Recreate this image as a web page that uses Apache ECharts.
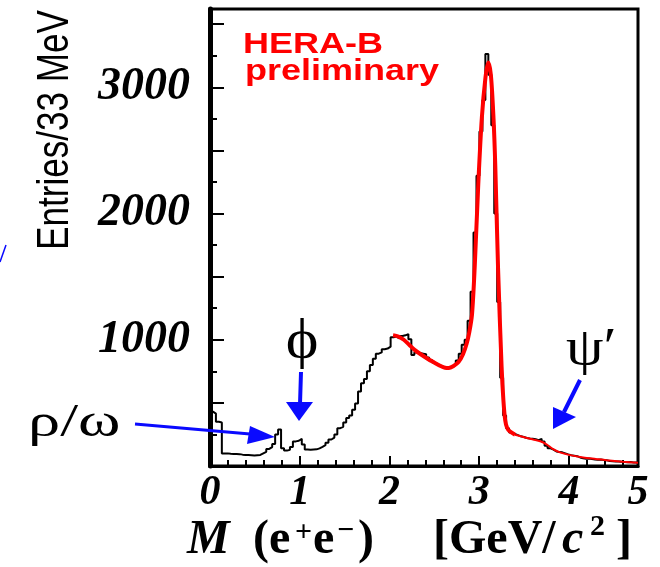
<!DOCTYPE html>
<html>
<head>
<meta charset="utf-8">
<script src="https://cdn.jsdelivr.net/npm/echarts@6/dist/echarts.min.js"></script>
<style>
  html, body { margin: 0; padding: 0; background: #fff; }
  #chart { width: 660px; height: 567px; }
</style>
</head>
<body>
<div id="chart"></div>
<script>
// e+e- invariant mass, 33 MeV bins starting at 0
const binWidth = 0.033
const counts = [
  430, 415, 350, 345, 100, 100, 97, 95, 96, 94,
  90, 88, 87, 86, 84, 86, 88, 100, 112, 135,
  150, 175, 250, 290, 140, 122, 128, 150, 195, 200,
  215, 170, 130, 128, 130, 132, 140, 152, 165, 185,
  210, 225, 250, 300, 310, 345, 380, 400, 445, 495,
  590, 655, 690, 750, 800, 850, 890, 900, 925, 930,
  945, 1020, 1025, 1010, 1030, 1035, 1045, 1005, 880, 900,
  895, 890, 885, 860, 840, 820, 805, 795, 785, 778,
  775, 785, 800, 835, 890, 960, 1000, 1150, 1380, 1850,
  2300, 2650, 2900, 3263, 3100, 2700, 2000, 1300, 700, 400,
  300, 265, 255, 245, 235, 230, 222, 218, 215, 212,
  205, 215, 195, 160, 140, 130, 115, 110, 108, 100,
  92, 85, 82, 78, 68, 62, 58, 60, 55, 52,
  50, 52, 48, 45, 40, 38, 35, 36, 33, 32,
  30, 31, 28, 27, 26
]

// fit curve (thick part and thin tail)
const fitMass = [2.04, 2.10, 2.16, 2.22, 2.28, 2.34, 2.42, 2.49, 2.57, 2.62, 2.66, 2.71, 2.77, 2.82, 2.86, 2.89, 2.92, 2.95, 2.99, 3.03, 3.07, 3.10, 3.13, 3.16, 3.18, 3.21, 3.25, 3.27, 3.29, 3.31, 3.34, 3.40]
const fitCounts = [1035, 1025, 1000, 960, 920, 889, 852, 823, 792, 778, 776, 790, 823, 885, 968, 1060, 1200, 1574, 2234, 2761, 3077, 3196, 3100, 2750, 2365, 1574, 783, 520, 362, 305, 275, 248]
const tailMass = [3.40, 3.50, 3.60, 3.68, 3.75, 3.82, 3.90, 4.00, 4.16, 4.30, 4.42, 4.60, 4.77]
const tailCounts = [248, 228, 210, 196, 172, 135, 108, 88, 68, 56, 46, 34, 25]

const xTickLabels = ['0', '1', '2', '3', '4', '5']
const yTickLabels = [1000, 2000, 3000]

const xMax = 4.77
const yMax = 3620

const histData = counts.map((c, i) => [i * binWidth, c])
histData.push([counts.length * binWidth, counts[counts.length - 1]])

const blue = '#0a0aff'
const serif = '"Liberation Serif", "DejaVu Serif", serif'
const sans = '"Liberation Sans", Arial, sans-serif'

const chart = echarts.init(document.getElementById('chart'), null, { renderer: 'canvas' })

function txt(x, y, text, font, opts) {
  opts = opts || {}
  return {
    type: 'text',
    x: x,
    y: y,
    rotation: opts.rotation || 0,
    scaleX: opts.scaleX || 1,
    scaleY: 1,
    z: 100,
    style: {
      text: text,
      font: font,
      fill: opts.color || '#000',
      align: opts.align || 'left',
      textAlign: opts.align || 'left',
      verticalAlign: 'middle',
      textVerticalAlign: 'middle'
    }
  }
}

function arrow(shaft, head, width) {
  return [
    { type: 'polyline', z: 100, shape: { points: shaft }, style: { stroke: blue, lineWidth: width, fill: null } },
    { type: 'polygon', z: 100, shape: { points: head }, style: { fill: blue } }
  ]
}

chart.setOption({
  animation: false,
  backgroundColor: '#fff',
  grid: {
    left: 210,
    right: 22,
    top: 9,
    bottom: 101,
    show: true,
    borderColor: '#000',
    borderWidth: 3
  },
  xAxis: [
    {
      type: 'value',
      min: 0,
      max: xMax,
      interval: 0.2,
      position: 'bottom',
      axisLine: { show: true, lineStyle: { color: '#000', width: 3 } },
      axisTick: { show: true, inside: true, length: 6, lineStyle: { color: '#000', width: 2 } },
      axisLabel: { show: false },
      splitLine: { show: false }
    },
    {
      type: 'value',
      min: 0,
      max: xMax,
      interval: 1,
      position: 'bottom',
      offset: 0,
      axisLine: { show: false },
      axisTick: { show: true, inside: true, length: 10, lineStyle: { color: '#000', width: 2 } },
      axisLabel: {
        show: true,
        margin: 6,
        showMinLabel: true,
        showMaxLabel: true,
        color: '#000',
        fontFamily: serif,
        fontStyle: 'italic',
        fontWeight: 'bold',
        fontSize: 42,
        formatter: function (v) {
          if (v > 4.5) return xTickLabels[5]
          return xTickLabels[Math.round(v)]
        }
      },
      splitLine: { show: false }
    }
  ],
  yAxis: [
    {
      type: 'value',
      min: 0,
      max: yMax,
      interval: 250,
      position: 'left',
      axisLine: { show: true, lineStyle: { color: '#000', width: 5 } },
      axisTick: { show: true, inside: true, length: 7, lineStyle: { color: '#000', width: 2 } },
      axisLabel: { show: false },
      splitLine: { show: false }
    },
    {
      type: 'value',
      min: 0,
      max: yMax,
      interval: 500,
      position: 'left',
      offset: 0,
      axisLine: { show: false },
      axisTick: { show: true, inside: true, length: 14, lineStyle: { color: '#000', width: 2 } },
      axisLabel: {
        show: true,
        margin: 20,
        color: '#000',
        fontFamily: serif,
        fontStyle: 'italic',
        fontWeight: 'bold',
        fontSize: 46,
        formatter: function (v) {
          return yTickLabels.indexOf(v) >= 0 ? String(v) : ''
        }
      },
      splitLine: { show: false }
    }
  ],
  series: [
    {
      name: 'data',
      type: 'line',
      step: 'end',
      symbol: 'none',
      xAxisIndex: 0,
      yAxisIndex: 0,
      data: histData,
      lineStyle: { color: '#000', width: 2 },
      z: 2
    },
    {
      name: 'fit',
      type: 'line',
      smooth: 0.3,
      symbol: 'none',
      xAxisIndex: 0,
      yAxisIndex: 0,
      data: fitMass.map((m, i) => [m, fitCounts[i]]),
      lineStyle: { color: '#ff0000', width: 4 },
      z: 3
    },
    {
      name: 'fit tail',
      type: 'line',
      smooth: 0.3,
      symbol: 'none',
      xAxisIndex: 0,
      yAxisIndex: 0,
      data: tailMass.map((m, i) => [m, tailCounts[i]]),
      lineStyle: { color: '#ff0000', width: 2 },
      z: 3
    }
  ],
  graphic: [
    txt(243, 45, 'HERA-B', 'bold 30px ' + sans, { color: '#ff0000', scaleX: 1.2 }),
    txt(245, 72, 'preliminary', 'bold 30px ' + sans, { color: '#ff0000', scaleX: 1.2 }),
    txt(56, 130, 'Entries/33 MeV', '45px ' + sans, { rotation: Math.PI / 2, scaleX: 0.78, align: 'center' }),
    // x axis title
    txt(187, 541, 'M', 'italic bold 48px ' + serif),
    txt(253, 541, '(e', 'bold 48px ' + serif),
    txt(295, 533, '+', 'bold 30px ' + serif),
    txt(313, 541, 'e', 'bold 48px ' + serif),
    txt(337, 531, '\u2212', 'bold 30px ' + serif),
    txt(358, 541, ')', 'bold 48px ' + serif),
    txt(433, 541, '[GeV/', 'bold 48px ' + serif),
    txt(562, 541, 'c', 'italic bold 48px ' + serif),
    txt(590, 527, '2', 'bold 30px ' + serif),
    txt(616, 541, ']', 'bold 48px ' + serif),
    // annotations
    txt(28, 424, '\u03c1/\u03c9', '46px ' + serif, { scaleX: 1.4 }),
    txt(302, 343, '\u03d5', '54px ' + serif, { align: 'center', scaleX: 1.15 }),
    txt(566, 350, '\u03c8\u2032', '52px ' + serif, { scaleX: 1.15 })
  ]
    .concat(arrow([[135, 424], [250, 434]], [[250, 426], [247, 444], [275, 437]], 3))
    .concat(arrow([[301, 372], [300, 404]], [[286, 402], [313, 402], [299, 421]], 4))
    .concat(arrow([[580, 380], [564, 412]], [[553, 407], [576, 417], [553, 429]], 4))
    .concat([{ type: 'line', z: 100, shape: { x1: 0, y1: 262, x2: 6, y2: 245 }, style: { stroke: blue, lineWidth: 1.5 } }])
})
</script>
</body>
</html>
